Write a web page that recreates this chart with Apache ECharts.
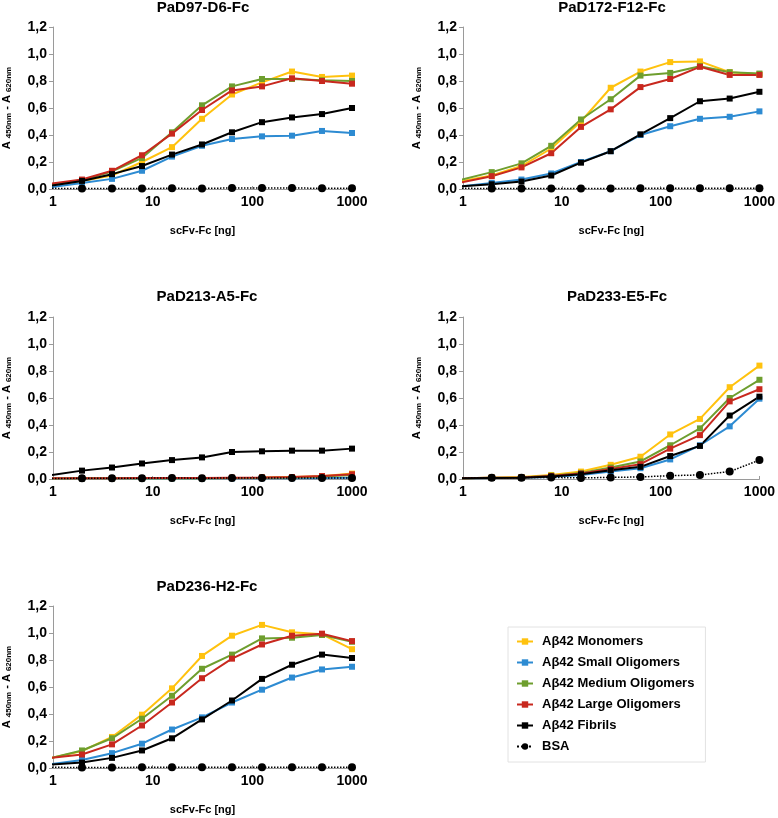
<!DOCTYPE html>
<html>
<head>
<meta charset="utf-8">
<script src="https://cdn.jsdelivr.net/npm/echarts@6/dist/echarts.min.js"></script>
<style>
html,body{margin:0;padding:0;background:#fff;}
#chart{width:778px;height:818px;}
</style>
</head>
<body>
<div id="chart"></div>
<script>
// Doses (ng), serial 1:2 dilution from 1000 ng
const doses = [0.9766, 1.953, 3.906, 7.8125, 15.625, 31.25, 62.5, 125, 250, 500, 1000];
const xTickLabels = ['1', '10', '100', '1000'];
const seriesNames = ['Aβ42 Monomers', 'Aβ42 Small Oligomers', 'Aβ42 Medium Oligomers', 'Aβ42 Large Oligomers', 'Aβ42 Fibrils', 'BSA'];
const panelTitles = ['PaD97-D6-Fc', 'PaD172-F12-Fc', 'PaD213-A5-Fc', 'PaD233-E5-Fc', 'PaD236-H2-Fc'];

// PaD97-D6-Fc
const p1Monomers = [0.03, 0.06, 0.10, 0.20, 0.31, 0.52, 0.70, 0.79, 0.87, 0.83, 0.84];
const p1Small    = [0.015, 0.045, 0.075, 0.135, 0.24, 0.32, 0.37, 0.39, 0.395, 0.43, 0.415];
const p1Medium   = [0.035, 0.065, 0.13, 0.23, 0.42, 0.62, 0.76, 0.815, 0.815, 0.805, 0.80];
const p1Large    = [0.04, 0.07, 0.135, 0.25, 0.41, 0.585, 0.73, 0.76, 0.82, 0.80, 0.78];
const p1Fibrils  = [0.025, 0.06, 0.11, 0.17, 0.255, 0.33, 0.42, 0.495, 0.53, 0.555, 0.60];
const p1BSA      = [0.005, 0.003, 0.003, 0.004, 0.005, 0.004, 0.008, 0.007, 0.007, 0.006, 0.005];

// PaD172-F12-Fc
const p2Monomers = [0.06, 0.10, 0.17, 0.30, 0.50, 0.75, 0.87, 0.94, 0.945, 0.865, 0.85];
const p2Small    = [0.02, 0.045, 0.07, 0.115, 0.20, 0.28, 0.40, 0.465, 0.52, 0.535, 0.575];
const p2Medium   = [0.07, 0.125, 0.19, 0.32, 0.515, 0.665, 0.84, 0.86, 0.91, 0.865, 0.855];
const p2Large    = [0.05, 0.095, 0.16, 0.265, 0.46, 0.59, 0.755, 0.815, 0.905, 0.845, 0.845];
const p2Fibrils  = [0.02, 0.035, 0.055, 0.10, 0.195, 0.28, 0.405, 0.525, 0.65, 0.67, 0.72];
const p2BSA      = [0.005, 0.004, 0.004, 0.003, 0.004, 0.004, 0.006, 0.006, 0.006, 0.005, 0.005];

// PaD213-A5-Fc
const p3Monomers = [0.005, 0.005, 0.005, 0.006, 0.007, 0.006, 0.008, 0.01, 0.015, 0.02, 0.04];
const p3Small    = [0.003, 0.003, 0.004, 0.004, 0.005, 0.004, 0.005, 0.006, 0.006, 0.007, 0.01];
const p3Medium   = [0.004, 0.005, 0.005, 0.005, 0.006, 0.006, 0.007, 0.009, 0.012, 0.018, 0.03];
const p3Large    = [0.005, 0.006, 0.006, 0.007, 0.008, 0.008, 0.01, 0.012, 0.015, 0.022, 0.035];
const p3Fibrils  = [0.03, 0.062, 0.085, 0.115, 0.14, 0.16, 0.20, 0.205, 0.21, 0.21, 0.225];
const p3BSA      = [0.004, 0.005, 0.006, 0.006, 0.008, 0.005, 0.008, 0.007, 0.008, 0.008, 0.007];

// PaD233-E5-Fc
const p4Monomers = [0.005, 0.01, 0.015, 0.03, 0.055, 0.105, 0.165, 0.33, 0.445, 0.68, 0.84];
const p4Small    = [0.005, 0.008, 0.01, 0.015, 0.03, 0.055, 0.08, 0.145, 0.25, 0.39, 0.595];
const p4Medium   = [0.005, 0.01, 0.012, 0.025, 0.045, 0.085, 0.13, 0.25, 0.375, 0.60, 0.735];
const p4Large    = [0.005, 0.01, 0.012, 0.022, 0.04, 0.075, 0.11, 0.225, 0.325, 0.575, 0.665];
const p4Fibrils  = [0.005, 0.008, 0.01, 0.018, 0.035, 0.065, 0.09, 0.17, 0.245, 0.47, 0.61];
const p4BSA      = [0.005, 0.01, 0.01, 0.012, 0.008, 0.012, 0.015, 0.025, 0.03, 0.055, 0.14];

// PaD236-H2-Fc
const p5Monomers = [0.075, 0.125, 0.23, 0.395, 0.59, 0.83, 0.98, 1.06, 1.005, 0.99, 0.88];
const p5Small    = [0.03, 0.06, 0.11, 0.18, 0.285, 0.375, 0.485, 0.58, 0.67, 0.73, 0.75];
const p5Medium   = [0.075, 0.13, 0.22, 0.365, 0.535, 0.735, 0.84, 0.96, 0.965, 0.985, 0.935];
const p5Large    = [0.075, 0.10, 0.175, 0.315, 0.485, 0.665, 0.81, 0.915, 0.98, 0.995, 0.94];
const p5Fibrils  = [0.025, 0.04, 0.075, 0.13, 0.22, 0.36, 0.50, 0.66, 0.765, 0.84, 0.815];
const p5BSA      = [0.005, 0.004, 0.004, 0.005, 0.005, 0.005, 0.006, 0.006, 0.006, 0.005, 0.005];

const panels = [
  [p1Monomers, p1Small, p1Medium, p1Large, p1Fibrils, p1BSA],
  [p2Monomers, p2Small, p2Medium, p2Large, p2Fibrils, p2BSA],
  [p3Monomers, p3Small, p3Medium, p3Large, p3Fibrils, p3BSA],
  [p4Monomers, p4Small, p4Medium, p4Large, p4Fibrils, p4BSA],
  [p5Monomers, p5Small, p5Medium, p5Large, p5Fibrils, p5BSA]
];

const colors = ['#FFC20E', '#2D8BD2', '#6E9E2E', '#C8281E', '#000000', '#000000'];
const grids = [
  {left: 53, top: 27, width: 299, height: 162},
  {left: 463, top: 27, width: 299, height: 162},
  {left: 53, top: 317, width: 299, height: 162},
  {left: 463, top: 317, width: 299, height: 162},
  {left: 53, top: 606, width: 299, height: 162}
];
const titlePos = [[203, 8], [612, 8], [207, 297], [617, 297], [207, 587]];

const FONT = 'Arial, "Liberation Sans", sans-serif';
const chart = echarts.init(document.getElementById('chart'), null, {renderer: 'canvas'});

const xAxes = [], yAxes = [], series = [], graphics = [];
grids.forEach((g, i) => {
  xAxes.push({
    type: 'log', logBase: 10, gridIndex: i, min: 1, max: 1000,
    axisLine: {show: true, lineStyle: {color: '#9a9a9a', width: 1}},
    axisTick: {show: true, inside: true, length: 3, lineStyle: {color: '#9a9a9a'}},
    splitLine: {show: false},
    axisLabel: {
      color: '#000', fontFamily: FONT, fontWeight: 'bold', fontSize: 14, margin: 6,
      formatter: v => { const idx = Math.round(Math.log10(v)); return xTickLabels[idx] !== undefined ? xTickLabels[idx] : ''; }
    },
    name: 'scFv-Fc [ng]', nameLocation: 'middle', nameGap: 36,
    nameTextStyle: {color: '#000', fontFamily: FONT, fontWeight: 'bold', fontSize: 11}
  });
  yAxes.push({
    type: 'value', gridIndex: i, min: 0, max: 1.2, interval: 0.2,
    axisLine: {show: true, lineStyle: {color: '#9a9a9a', width: 1}},
    axisTick: {show: true, inside: false, length: 4, lineStyle: {color: '#9a9a9a'}},
    splitLine: {show: false},
    axisLabel: {
      color: '#000', fontFamily: FONT, fontWeight: 'bold', fontSize: 14, margin: 6,
      formatter: v => v.toFixed(1).replace('.', ',')
    },
    name: '{a|A} {s|450nm} {a|- A} {s|620nm}',
    nameLocation: 'middle', nameRotate: 90, nameGap: 40,
    nameTextStyle: {
      color: '#000', fontFamily: FONT, fontWeight: 'bold', fontSize: 11,
      rich: {
        a: {fontFamily: FONT, fontWeight: 'bold', fontSize: 11, color: '#000'},
        s: {fontFamily: FONT, fontWeight: 'bold', fontSize: 8, color: '#000', padding: [4, 0, 0, 0]}
      }
    }
  });
  panels[i].forEach((vals, k) => {
    const isBSA = k === 5;
    series.push({
      name: seriesNames[k], type: 'line', xAxisIndex: i, yAxisIndex: i,
      data: doses.map((d, j) => [d, vals[j]]),
      clip: true,
      symbol: isBSA ? 'circle' : 'rect',
      symbolSize: isBSA ? 8 : 6,
      showAllSymbol: true,
      color: colors[k],
      itemStyle: {color: colors[k]},
      lineStyle: {color: colors[k], width: isBSA ? 1.5 : 2, type: isBSA ? 'dotted' : 'solid'},
      animation: false,
      silent: true
    });
  });
  graphics.push({
    type: 'text', x: titlePos[i][0], y: titlePos[i][1],
    style: {text: panelTitles[i], fill: '#000', font: 'bold 15px ' + FONT, align: 'center', verticalAlign: 'middle'}
  });
});

chart.setOption({
  backgroundColor: '#fff',
  animation: false,
  grid: grids.map(g => Object.assign({containLabel: false}, g)),
  xAxis: xAxes,
  yAxis: yAxes,
  series: series,
  graphic: graphics,
  legend: {
    data: seriesNames,
    orient: 'vertical', left: 508, top: 627,
    padding: [8, 11, 9, 8],
    itemGap: 8, itemWidth: 16, itemHeight: 8,
    backgroundColor: '#fff', borderColor: '#e2e2e2', borderWidth: 1,
    textStyle: {color: '#000', fontFamily: FONT, fontWeight: 'bold', fontSize: 13, padding: [0, 0, 0, 4]},
    selectedMode: false
  }
});
</script>
</body>
</html>
